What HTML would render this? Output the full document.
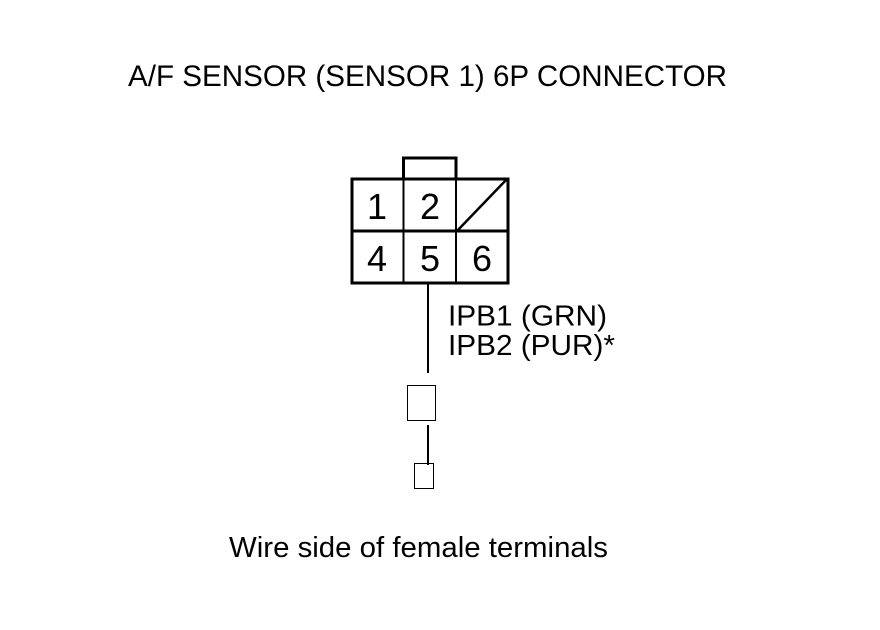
<!DOCTYPE html>
<html>
<head>
<meta charset="utf-8">
<style>
html,body{margin:0;padding:0;background:#fff;width:880px;height:630px;overflow:hidden}
svg{display:block}
text{font-family:"Liberation Sans",Arial,sans-serif;fill:#000}
</style>
</head>
<body>
<svg width="880" height="630" viewBox="0 0 880 630" xmlns="http://www.w3.org/2000/svg">
<rect width="880" height="630" fill="#fff"/>
<text x="128" y="86" font-size="29.5" textLength="599" lengthAdjust="spacingAndGlyphs">A/F SENSOR (SENSOR 1) 6P CONNECTOR</text>

<g fill="none" stroke="#000" shape-rendering="crispEdges">
<rect x="352" y="179" width="156" height="104" stroke-width="3"/>
<line x1="352" y1="231" x2="508" y2="231" stroke-width="3"/>
<line x1="403.500" y1="179" x2="403.500" y2="283" stroke-width="2"/>
<line x1="456" y1="179" x2="456" y2="283" stroke-width="2"/>
<path d="M403.500 178V158H456V178" stroke-width="3"/>
</g>
<line x1="457" y1="231" x2="507" y2="179" stroke="#000" stroke-width="2.5"/>

<g font-size="36" text-anchor="middle">
<text x="377" y="219">1</text>
<text x="430" y="219">2</text>
<text x="377" y="271">4</text>
<text x="430" y="271">5</text>
<text x="482" y="271">6</text>
</g>

<g font-size="29">
<text x="448" y="325.500" textLength="159" lengthAdjust="spacingAndGlyphs">IPB1 (GRN)</text>
<text x="448" y="355" textLength="167" lengthAdjust="spacingAndGlyphs">IPB2 (PUR)*</text>
</g>

<g stroke="#000" fill="none" shape-rendering="crispEdges">
<line x1="428" y1="284" x2="428" y2="373" stroke-width="2"/>
<rect x="407.500" y="385.500" width="28" height="35" stroke-width="1"/>
<line x1="428" y1="425" x2="428" y2="465" stroke-width="2"/>
<rect x="414.500" y="463.500" width="19" height="25" stroke-width="1"/>
</g>

<text x="229" y="557" font-size="29" textLength="379" lengthAdjust="spacingAndGlyphs">Wire side of female terminals</text>
</svg>
</body>
</html>
